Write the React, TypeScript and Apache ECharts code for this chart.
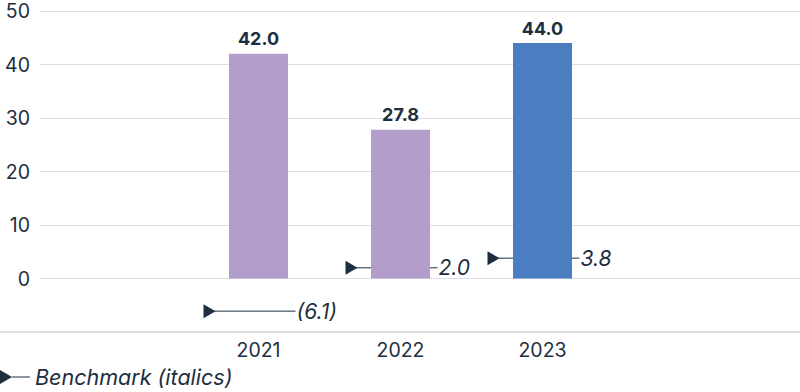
import React, { useEffect, useRef } from "react";
import * as echarts from "echarts";

const categories = ["2021", "2022", "2023"];
const barValues = [42.0, 27.8, 44.0];
const benchmarkValues = [-6.1, 2.0, 3.8];
const yTicks = [-10, 0, 10, 20, 30, 40, 50];
const legendLabel = "Benchmark (italics)";

const FONT = "Inter, Lato, sans-serif";
const TEXT = "#1c2e40";
const PURPLE = "#b39dcb";
const BLUE = "#4a7ec1";
const GRIDLINE = "#dddde3";

export default function App() {
  const ref = useRef<HTMLDivElement>(null);

  useEffect(() => {
    if (!ref.current) return;
    const chart = echarts.init(ref.current, undefined, { renderer: "svg" });
    const yMin = yTicks[0];
    const yMax = yTicks[yTicks.length - 1];
    const option: any = {
      animation: false,
      textStyle: { fontFamily: FONT },
      grid: [
        { left: 40, right: 0, top: 11, bottom: 60 },
        { left: 187.5, right: 186.5, top: 11, bottom: 60 },
        { left: 0, right: 0, top: 11, bottom: 60 },
      ],
      xAxis: [
        { gridIndex: 0, type: "value", show: false, min: 0, max: 1 },
        {
          gridIndex: 1,
          type: "category",
          data: categories,
          axisLine: { show: false },
          axisTick: { show: false },
          axisLabel: { color: TEXT, fontSize: 19.5, fontFamily: FONT, margin: 8 },
        },
        {
          gridIndex: 2,
          type: "value",
          min: 0,
          max: 1,
          axisLine: { show: true, onZero: false, lineStyle: { color: "#d6d6dc", width: 1.5 } },
          axisTick: { show: false },
          axisLabel: { show: false },
          splitLine: { show: false },
        },
      ],
      yAxis: [
        {
          gridIndex: 0,
          type: "value",
          min: yMin,
          max: yMax,
          interval: 10,
          axisLine: { show: false },
          axisTick: { show: false },
          axisLabel: {
            color: TEXT,
            fontSize: 19.5,
            fontFamily: FONT,
            margin: 10,
            formatter: (v: number) => (v === yMin ? "" : String(v)),
          },
          splitLine: { show: true, lineStyle: { color: GRIDLINE, width: 1.2 } },
        },
        { gridIndex: 1, type: "value", min: yMin, max: yMax, interval: 10, show: false },
        { gridIndex: 2, type: "value", min: yMin, max: yMax, interval: 10, show: false },
      ],
      legend: {
        left: 0,
        top: 366,
        padding: 0,
        data: [legendLabel],
        itemWidth: 30,
        itemHeight: 14,
        icon: "path://M0,0L12,7L0,14Z M12,6.5L30,6.5L30,7.5L12,7.5Z",
        textStyle: { color: TEXT, fontSize: 21.5, fontStyle: "italic", fontFamily: FONT },
        selectedMode: false,
      },
      series: [
        {
          type: "bar",
          xAxisIndex: 1,
          yAxisIndex: 1,
          barWidth: 59,
          data: barValues.map((v, i) => ({
            value: v,
            itemStyle: { color: i === 2 ? BLUE : PURPLE },
          })),
          label: {
            show: true,
            position: "top",
            distance: 6,
            color: TEXT,
            fontSize: 18,
            fontWeight: "bold",
            fontFamily: FONT,
            formatter: (p: any) => Number(p.value).toFixed(1),
          },
        },
        {
          name: legendLabel,
          type: "custom",
          xAxisIndex: 1,
          yAxisIndex: 1,
          itemStyle: { color: TEXT },
          data: benchmarkValues.map((v, i) => [i, v]),
          renderItem: (params: any, api: any) => {
            const v = api.value(1);
            const c = api.coord([api.value(0), v]);
            const x = c[0];
            const y = c[1];
            const label = v < 0 ? `(${Math.abs(v).toFixed(1)})` : v.toFixed(1);
            return {
              type: "group",
              children: [
                {
                  type: "line",
                  shape: { x1: x - 46, y1: y, x2: x + 37, y2: y },
                  style: { stroke: TEXT, lineWidth: 1 },
                },
                {
                  type: "polygon",
                  shape: {
                    points: [
                      [x - 55, y - 7],
                      [x - 43, y],
                      [x - 55, y + 7],
                    ],
                  },
                  style: { fill: TEXT },
                },
                {
                  type: "text",
                  x: x + 38,
                  y: y,
                  style: {
                    text: label,
                    fill: TEXT,
                    fontSize: 21,
                    fontStyle: "italic",
                    fontFamily: FONT,
                    verticalAlign: "middle",
                    align: "left",
                  },
                },
              ],
            };
          },
        },
      ],
    };
    chart.setOption(option);
    return () => chart.dispose();
  }, []);

  return (
    <div
      ref={ref}
      style={{ position: "absolute", left: 0, top: 0, width: 800, height: 392, background: "#fff" }}
    />
  );
}
